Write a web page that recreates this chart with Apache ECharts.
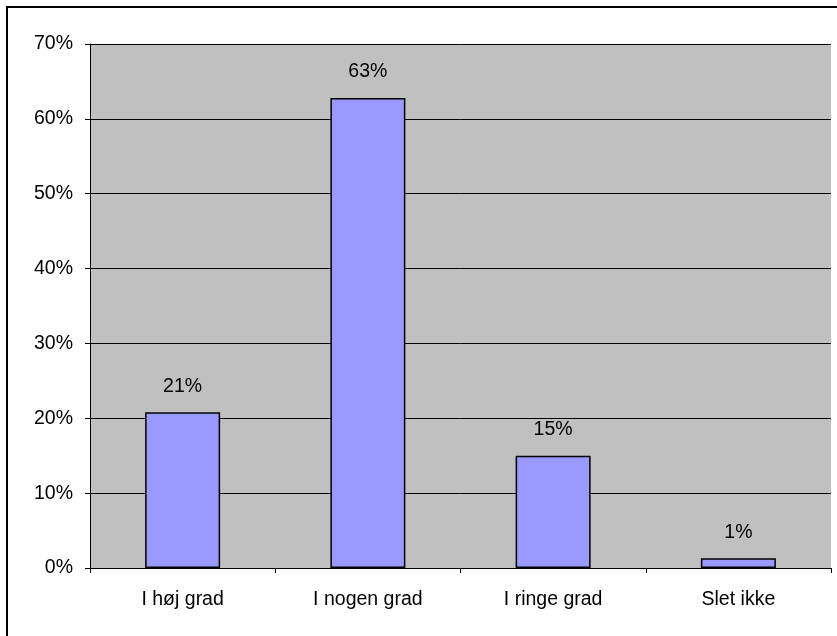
<!DOCTYPE html>
<html><head><meta charset="utf-8">
<script src="https://cdn.jsdelivr.net/npm/echarts@6/dist/echarts.min.js"></script>
<style>html,body{margin:0;padding:0;background:#fff}#c{width:837px;height:636px}</style>
</head><body><div id="c"></div>
<script>
const categories = ["I høj grad", "I nogen grad", "I ringe grad", "Slet ikke"];
const values = [20.8, 62.8, 15.0, 1.3];
const yTicks = [0, 10, 20, 30, 40, 50, 60, 70];

const chart = echarts.init(document.getElementById('c'), null, {renderer: 'canvas'});
const font = '"Liberation Sans", Arial, sans-serif';
chart.setOption({
  animation: false,
  graphic: [{
    type: 'rect', shape: {x: 7, y: 7, width: 840, height: 640},
    style: {fill: 'none', stroke: '#000', lineWidth: 2}, z: 100
  }],
  grid: {left: 90, top: 44, width: 741, height: 524, backgroundColor: '#C0C0C0', show: true, borderWidth: 0},
  xAxis: {
    type: 'category', data: categories,
    axisLine: {lineStyle: {color: '#000', width: 1}},
    axisTick: {show: true, length: 5, inside: false, lineStyle: {color: '#000'}},
    axisLabel: {color: '#000', fontSize: 19.5, fontFamily: font, margin: 22},
    splitLine: {show: false}
  },
  yAxis: {
    type: 'value', min: 0, max: yTicks[yTicks.length - 1], interval: 10,
    axisLine: {show: true, lineStyle: {color: '#000', width: 1}},
    axisTick: {show: true, length: 5, lineStyle: {color: '#000'}},
    axisLabel: {color: '#000', fontSize: 19.5, fontFamily: font, margin: 17, formatter: v => v + '%'},
    splitLine: {show: true, lineStyle: {color: '#000', width: 1}}
  },
  series: [{
    type: 'bar', data: values, barWidth: 75,
    itemStyle: {color: '#9999FF', borderColor: '#000', borderWidth: 1.5},
    label: {show: true, position: 'top', distance: 16, color: '#000', fontSize: 19.5, fontFamily: font,
      formatter: p => Math.round(p.value) + '%'}
  }]
});
</script></body></html>
